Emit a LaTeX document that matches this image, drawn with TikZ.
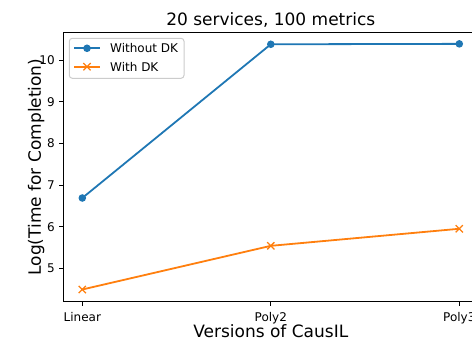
\documentclass[tikz,border=0pt]{standalone}
\usepackage{fontspec}
\setmainfont{DejaVu Sans}
\usetikzlibrary{calc}
\definecolor{mplblue}{HTML}{1F77B4}
\definecolor{mplorange}{HTML}{FF7F0E}
\definecolor{legendedge}{HTML}{CCCCCC}
\tikzset{
  spine/.style={draw=black, line width=1pt},
  tickmark/.style={draw=black, line width=1pt},
  ticklabel/.style={inner sep=0pt, font=\fontsize{12}{14}\selectfont},
  biglabel/.style={inner sep=0pt, font=\fontsize{17}{20}\selectfont},
  seriesA/.style={draw=mplblue, line width=1.8pt, line join=round, line cap=round},
  seriesB/.style={draw=mplorange, line width=1.8pt, line join=round, line cap=round},
  dotmark/.style={fill=mplblue, draw=none},
  crossmark/.style={draw=mplorange, line width=1.3pt},
  legendbox/.style={draw=legendedge, fill=white, fill opacity=0.8, line width=1pt, rounded corners=3pt},
}
\begin{document}
\begin{tikzpicture}[x=1pt,y=1pt]
\useasboundingbox (0,0) rectangle (472,342);
\clip (0,0) rectangle (472,342);

% plot area in data units: x = version index, y = log time
\begin{scope}[shift={(82.3,-134.3)}, x=188.5pt, y=41.6pt]
  \coordinate (ll) at (-0.1,4.197);
  \coordinate (ur) at (2.1,10.68);
  \draw[spine] (ll) rectangle (ur);

  % y ticks
  \foreach \v in {5,...,10} {
    \coordinate (yt\v) at (-0.1,\v);
    \draw[tickmark] (yt\v) -- ++(-4.2pt,0);
    \node[ticklabel, anchor=east, xshift=-8.6pt] (ytl\v) at (yt\v) {\v};
  }
  % x ticks
  \foreach \i/\t in {0/Linear,1/Poly2,2/Poly3} {
    \coordinate (xt\i) at (\i,4.197);
    \draw[tickmark] (xt\i) -- ++(0,-4.2pt);
    \node[ticklabel, anchor=base, yshift=-20.3pt] (xtl\i) at (xt\i) {\t};
  }

  % data points
  \coordinate (a0) at (0,6.69);
  \coordinate (a1) at (1,10.385);
  \coordinate (a2) at (2,10.395);
  \coordinate (b0) at (0,4.49);
  \coordinate (b1) at (1,5.54);
  \coordinate (b2) at (2,5.95);

  \draw[seriesA] (a0) -- (a1) -- (a2);
  \draw[seriesB] (b0) -- (b1) -- (b2);
  \foreach \p in {a0,a1,a2} { \fill[dotmark] (\p) circle (3.8pt); }
  \foreach \p in {b0,b1,b2} {
    \draw[crossmark] ($(\p)+(-3.6pt,-3.6pt)$) -- ($(\p)+(3.6pt,3.6pt)$)
                     ($(\p)+(-3.6pt,3.6pt)$) -- ($(\p)+(3.6pt,-3.6pt)$);
  }

  % titles
  \node[biglabel, anchor=base, yshift=7pt] (title) at (1,10.68) {20 services, 100 metrics};
  \node[biglabel, anchor=base, yshift=-36.3pt] (xlabel) at (1,4.197) {Versions of CausIL};
\end{scope}

\node[biglabel, rotate=90, anchor=base] (ylabel) at (41,175) {Log(Time for Completion)};

% legend
\draw[legendbox] (69.3,263.7) rectangle (184,303.7);
\coordinate (la0) at (74,293.7);
\coordinate (la1) at (100,293.7);
\coordinate (lb0) at (74,275.3);
\coordinate (lb1) at (100,275.3);
\draw[seriesA, line cap=butt] (la0) -- (la1);
\fill[dotmark] (87,293.7) circle (3.8pt);
\draw[seriesB, line cap=butt] (lb0) -- (lb1);
\draw[crossmark] (83.4,271.7) -- (90.6,278.9) (83.4,278.9) -- (90.6,271.7);
\node[ticklabel, anchor=base west] (lta) at (110,289.3) {Without DK};
\node[ticklabel, anchor=base west] (ltb) at (110,270.9) {With DK};
\end{tikzpicture}
\end{document}
